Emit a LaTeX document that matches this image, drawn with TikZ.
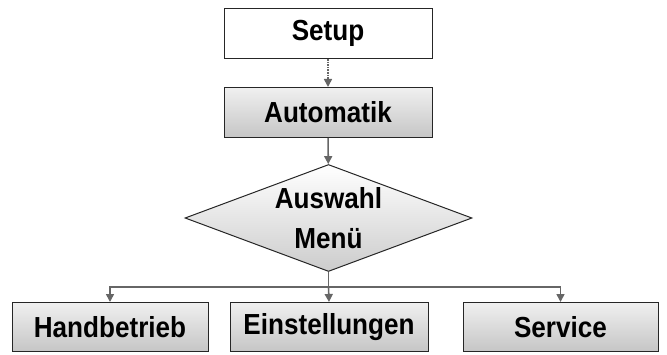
\documentclass[tikz,border=0pt]{standalone}
\usepackage{fontspec}
\setmainfont[FakeStretch=0.9]{Liberation Sans}
\usetikzlibrary{arrows.meta,shapes.geometric}
\begin{document}
\begin{tikzpicture}[x=1pt,y=1pt,
        font=\fontsize{29}{40}\selectfont\bfseries,
        box/.style={draw=black!85, line width=1pt, minimum height=50pt, inner sep=0pt,
            top color=gray!12, bottom color=gray!45},
        flow/.style={draw=black!60, line width=1.6pt, -{Triangle[length=8pt,width=8pt]}}]
        \useasboundingbox (0,0) rectangle (667,354);
        % oben
        \node[box, top color=white, bottom color=white, minimum width=208pt] (setup) at (328,320.5) {Setup};
        \node[box, minimum width=208pt] (auto) at (328,241.5) {Automatik};
        \node[draw=black!85, line width=1pt, shape=diamond, aspect=2.68, inner sep=0pt,
            minimum width=287pt, minimum height=107pt, top color=white, bottom color=gray!40,
            align=center] (menu) at (328.5,136) {Auswahl\\Menü};
        % unten
        \node[box, minimum width=196pt, minimum height=49pt] (hand) at (110,27) {Handbetrieb};
        \node[box, minimum width=198pt, minimum height=49pt] (eins) at (329,27) {Einstellungen};
        \node[box, minimum width=195pt, minimum height=49pt] (serv) at (560.5,27) {Service};
        \coordinate (fork) at (328.5,67);
        \draw[flow, densely dotted] (setup) -- (auto);
        \draw[flow] (auto) -- (menu);
        \draw[draw=black!60, line width=1.6pt] (menu.south) -- (fork);
        \draw[flow] (fork) -| (hand.north);
        \draw[flow] (fork) -- (eins.north);
        \draw[flow] (fork) -| (serv.north);
\end{tikzpicture}
\end{document}
